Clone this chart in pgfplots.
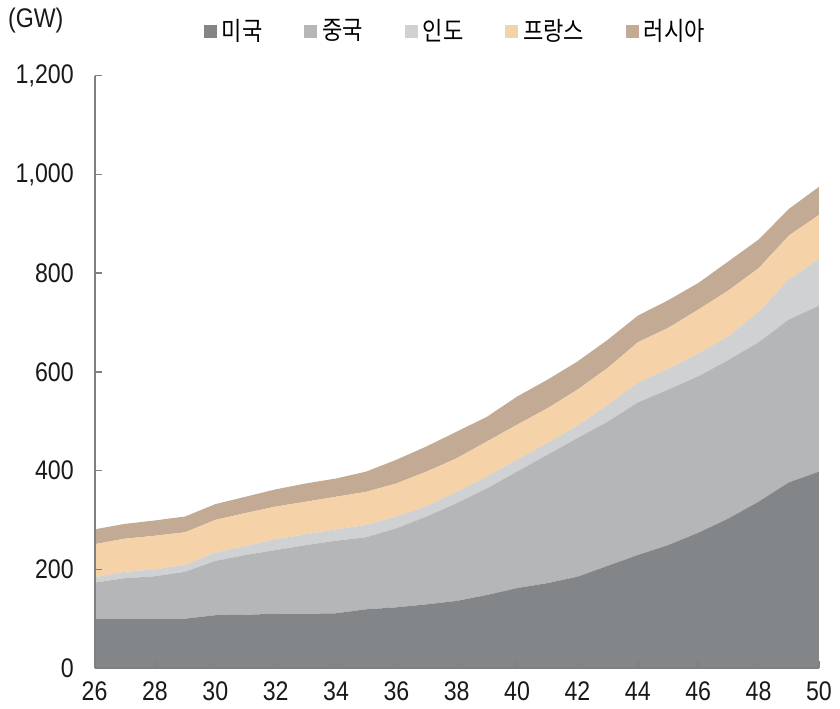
\documentclass[border=0pt]{standalone}
\usepackage{fontspec}
\setmainfont{Liberation Sans}[FakeStretch=0.86]
\newfontfamily\kr{Noto Sans CJK KR}[FakeStretch=0.86]
\usepackage{pgfplots}
\usepackage{pgfplotstable}
\pgfplotsset{compat=1.18}

\definecolor{cUS}{HTML}{838689}
\definecolor{cCN}{HTML}{B5B6B8}
\definecolor{cIN}{HTML}{D0D1D3}
\definecolor{cFR}{HTML}{F5D2A8}
\definecolor{cRU}{HTML}{C2AA95}

% capacity by year (GW), stacked
\pgfplotstableread{
yr  us   cn   in  fr  ru
26  100  73   11  67  30
27  100  82   13  67  30
28  100  86   14  68  31
29  100  95   14  66  32
30  107  110  17  66  32
31  108  121  18  67  33
32  110  129  22  66  35
33  110  139  22  66  37
34  111  147  23  66  37
35  119  146  25  67  41
36  123  160  24  67  48
37  129  178  21  70  51
38  136  198  23  68  54
39  148  216  24  71  50
40  162  236  24  71  57
41  172  260  24  70  58
42  185  281  25  73  57
43  207  292  34  75  57
44  229  309  40  82  54
45  249  315  42  83  56
46  274  317  46  89  54
47  303  321  48  93  59
48  337  323  62  88  58
49  376  330  81  89  54
50  398  336  95  89  57
}\capdata

\begin{document}
\begin{tikzpicture}
\begin{axis}[
  name=ax,
  scale only axis, width=296pt, height=242pt,
  xmin=26, xmax=50, ymin=0, ymax=1200,
  xtick={26,28,...,50}, ytick={0,200,...,1200},
  stack plots=y, area style,
  axis x line*=bottom, axis y line*=left,
  axis line style={draw=black!50, line width=0.8pt},
  tick style={draw=black!50, line width=0.6pt},
  tick align=inside, major tick length=3pt,
  axis on top,
  tick label style={font=\fontsize{11}{13}\selectfont, text=black!90},
  /pgf/number format/assume math mode=true,
  /pgf/number format/1000 sep={,},
  yticklabel style={xshift=-5pt},
  xticklabel style={yshift=-2pt},
  legend columns=5,
  legend style={at={(0.5,1)}, anchor=center, yshift=18pt, draw=none,
    font=\kr\fontsize{10.5}{12}\selectfont,
    /tikz/every even column/.append style={column sep=15pt}},
  legend image code/.code={\fill[#1] (0pt,-2.7pt) rectangle (5.4pt,2.7pt);},
]
\addplot[draw=none, fill=cUS] table[x=yr, y=us] {\capdata} \closedcycle;
\addlegendentry{미국}
\addplot[draw=none, fill=cCN] table[x=yr, y=cn] {\capdata} \closedcycle;
\addlegendentry{중국}
\addplot[draw=none, fill=cIN] table[x=yr, y=in] {\capdata} \closedcycle;
\addlegendentry{인도}
\addplot[draw=none, fill=cFR] table[x=yr, y=fr] {\capdata} \closedcycle;
\addlegendentry{프랑스}
\addplot[draw=none, fill=cRU] table[x=yr, y=ru] {\capdata} \closedcycle;
\addlegendentry{러시아}
\end{axis}
\node[font=\fontsize{11}{13}\selectfont, text=black!90, anchor=center]
  at ([xshift=-24pt, yshift=22.5pt]ax.north west) {(GW)};
\end{tikzpicture}
\end{document}
